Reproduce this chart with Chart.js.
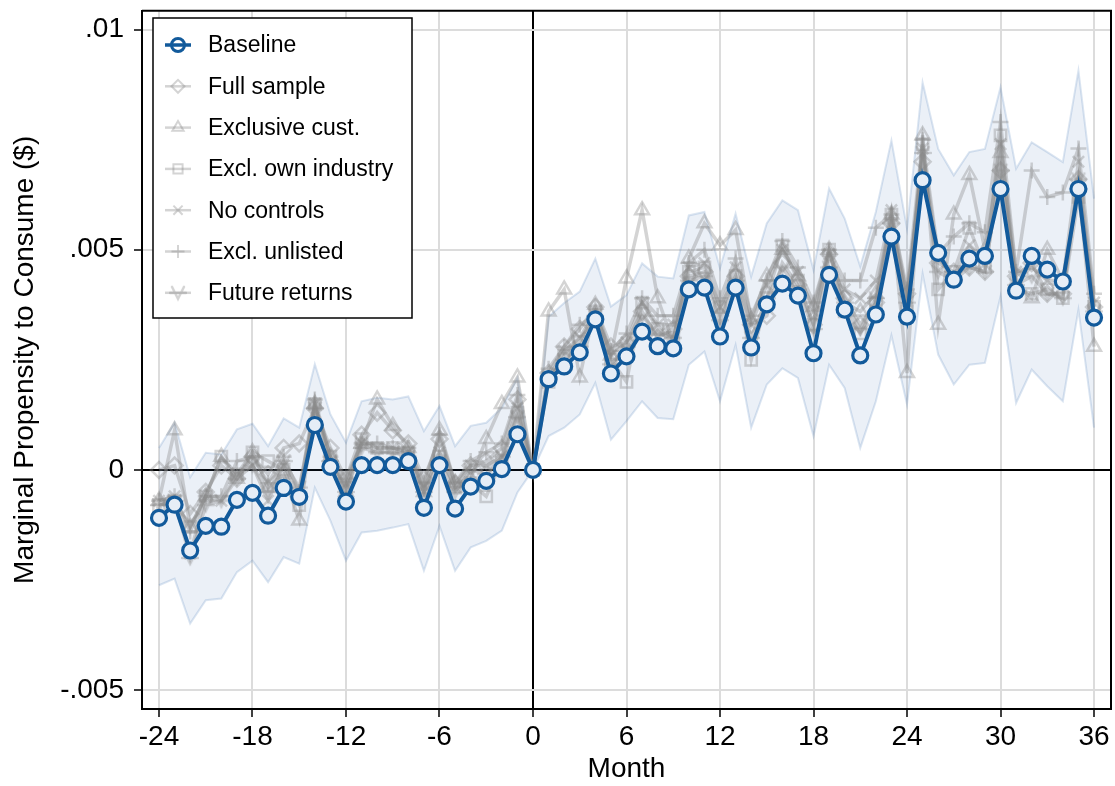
<!DOCTYPE html>
<html>
<head>
<meta charset="utf-8">
<script src="https://cdn.jsdelivr.net/npm/chart.js@4.4.0/dist/chart.umd.min.js"></script>
<style>
  html, body { margin: 0; padding: 0; background: #fff; }
  #wrap { width: 1115px; height: 786px; }
</style>
</head>
<body>
<div id="wrap"><canvas id="mpcChart" width="1115" height="786"></canvas></div>
<script>
// values are in thousandths of a dollar (axis labels show .005 etc.)
const months = [-24,-23,-22,-21,-20,-19,-18,-17,-16,-15,-14,-13,-12,-11,-10,-9,-8,-7,-6,-5,-4,-3,-2,-1,0,
  1,2,3,4,5,6,7,8,9,10,11,12,13,14,15,16,17,18,19,20,21,22,23,24,25,26,27,28,29,30,31,32,33,34,35,36];

const baseline = [-1.09,-0.79,-1.83,-1.27,-1.29,-0.68,-0.52,-1.04,-0.41,-0.61,1.02,0.07,-0.72,0.11,0.11,0.11,0.20,-0.86,0.11,-0.88,-0.38,-0.25,0.02,0.81,0,
  2.06,2.35,2.67,3.42,2.19,2.58,3.14,2.81,2.76,4.10,4.14,3.03,4.14,2.78,3.76,4.23,3.96,2.65,4.43,3.64,2.60,3.53,5.30,3.48,6.58,4.93,4.32,4.80,4.86,6.38,4.07,4.86,4.55,4.28,6.38,3.46];
const ciUpper = [0.50,1.07,-0.17,0.39,0.35,0.92,1.05,0.54,1.17,0.96,2.40,1.26,0.62,1.56,1.64,1.60,1.67,0.88,1.45,0.54,1.00,1.07,1.41,2.10,0,
  3.48,3.79,4.05,4.80,3.71,3.97,4.69,4.39,4.35,5.78,5.86,4.58,5.82,4.39,5.60,6.12,5.90,4.54,6.39,5.71,4.62,5.86,7.48,5.48,8.80,7.29,6.69,7.22,7.29,8.69,6.84,7.44,7.22,6.99,9.07,6.16];
const ciLower = [-2.62,-2.47,-3.49,-2.96,-2.92,-2.32,-2.06,-2.55,-1.98,-2.13,-0.40,-1.15,-2.06,-1.42,-1.38,-1.31,-1.23,-2.29,-1.27,-2.29,-1.76,-1.61,-1.38,-0.51,0,
  0.77,0.96,1.26,1.98,0.69,1.11,1.56,1.18,1.15,2.39,2.69,1.56,2.84,0.96,1.94,2.31,2.09,0.77,2.39,1.86,0.50,1.56,3.06,1.49,4.46,2.62,1.94,2.39,2.43,3.94,1.52,2.28,1.90,1.56,3.64,0.96];

const fullSample = [0,0.10,-1.00,-0.50,0.10,-0.20,0.30,-0.10,0.50,0.60,1.40,0.50,-0.20,0.80,1.30,0.90,0.60,-0.20,0.70,-0.30,0.10,0.20,0.50,1.60,0,
  2.20,2.80,3.20,3.70,2.80,2.90,3.60,3.00,3.20,4.40,4.50,3.50,4.40,3.30,3.50,4.70,4.20,3.30,4.90,3.90,3.30,3.80,5.60,4.00,7.00,4.70,4.50,4.60,4.50,6.80,4.40,4.70,4.00,4.00,6.60,3.70];
const exclusiveCust = [-0.70,0.90,-1.30,-0.60,0.30,-0.20,0.40,-0.40,-0.10,-1.15,1.50,0.30,-0.50,0.60,1.60,1.00,0.50,-0.50,0.90,-0.30,-0.20,0.70,1.50,2.10,0,
  3.60,4.10,2.10,3.75,2.60,4.35,5.90,3.90,2.90,4.80,5.60,5.10,5.45,3.40,4.40,5.00,4.40,3.70,5.00,3.80,3.60,4.00,5.80,2.20,7.60,3.30,5.80,6.70,5.00,7.20,4.20,3.90,5.00,4.30,6.50,2.80];
const exclOwnIndustry = [-0.80,-0.70,-1.30,-0.60,0.30,-0.10,0.40,0.20,0.00,-0.80,1.50,0.30,-0.40,0.70,0.50,0.50,0.40,-0.40,0.30,-0.40,-0.30,-0.60,0.20,1.30,0,
  2.00,2.60,2.90,3.60,2.50,2.00,3.80,3.20,3.00,4.50,4.60,3.70,4.40,2.50,3.90,5.10,4.30,3.30,5.00,3.60,3.10,3.80,5.80,3.60,7.40,4.10,4.50,5.50,4.60,7.60,4.10,4.00,4.10,3.90,6.20,3.70];
const noControls = [-0.70,-0.60,-1.90,-0.60,-0.70,-0.10,0.10,-0.70,0.10,-0.60,1.50,0.10,-0.30,0.60,0.50,0.50,0.40,-0.50,0.40,-0.40,0.10,0.10,0.30,1.40,0,
  2.10,2.70,3.00,3.60,2.60,2.90,3.80,3.30,3.30,4.60,4.70,3.70,4.60,3.30,4.20,5.00,4.50,3.60,4.90,4.10,3.90,4.30,5.90,3.90,7.30,4.80,4.40,5.10,4.80,7.40,4.50,4.60,4.30,4.30,7.00,3.80];
const exclUnlisted = [-0.70,-0.60,-1.40,-0.60,-0.60,0.20,0.30,-0.30,0.30,-0.50,1.60,0.30,-0.20,0.60,0.60,0.50,0.50,-0.30,0.80,-0.30,0.20,0.40,0.60,1.70,0,
  2.30,2.80,3.30,3.50,2.70,3.10,3.90,3.50,3.50,4.70,5.00,3.90,4.80,3.50,4.30,5.20,4.60,3.80,5.00,4.30,4.30,5.50,5.80,4.10,7.50,4.90,5.30,5.60,5.40,7.90,4.50,6.80,6.20,6.30,7.30,4.00];
const futureReturns = [-0.80,-0.70,-2.00,-0.80,-0.70,-0.20,0.10,-0.50,0.20,-0.40,1.40,0.20,-0.50,0.50,0.40,0.40,0.30,-0.50,0.20,-0.50,0.00,-0.10,0.30,1.20,0,
  2.10,2.50,2.80,3.50,2.40,2.80,3.50,3.10,3.00,4.30,4.40,3.40,4.30,3.00,3.90,4.60,4.10,3.20,4.60,3.80,3.20,3.90,5.60,3.80,7.20,4.50,4.30,4.60,4.50,6.80,4.20,4.40,4.00,3.90,6.60,3.60];

const xTicks = [-24,-18,-12,-6,0,6,12,18,24,30,36];
const yTicks = [-5,0,5,10];
const yTickLabels = ['-.005','0','.005','.01'];

const FONT = 'Liberation Sans, Arial, sans-serif';
const BLUE = '#125a9b';
const GRAY = 'rgba(135,135,135,0.36)';
const PLOT_RIGHT = 1111;

// hollow "V" marker for future returns (no built-in shape)
function makeVee(size, color) {
  const c = document.createElement('canvas');
  c.width = size; c.height = size;
  const g = c.getContext('2d');
  g.strokeStyle = color; g.lineWidth = 2.5; g.lineCap = 'round';
  g.beginPath();
  g.moveTo(3, 3); g.lineTo(size / 2, size - 3); g.lineTo(size - 3, 3);
  g.moveTo(1, size / 2); g.lineTo(size - 1, size / 2);
  g.stroke();
  return c;
}
const veeMark = makeVee(18, GRAY);

const pts = arr => months.map((m, i) => ({ x: m, y: arr[i] }));

function grayLine(label, arr, style, order) {
  return {
    label: label, data: pts(arr), order: order,
    borderColor: GRAY, borderWidth: 3.5,
    pointStyle: style, pointRadius: 8, pointBorderWidth: 2.5,
    pointBorderColor: GRAY, pointBackgroundColor: 'rgba(0,0,0,0)',
    tension: 0
  };
}

// stretch the plot to the right edge used by the original figure
const stretchRight = {
  id: 'stretchRight',
  afterLayout(chart) {
    const a = chart.chartArea, x = chart.scales.x;
    a.right = PLOT_RIGHT; a.width = a.right - a.left;
    x.right = PLOT_RIGHT; x.width = x.right - x.left;
    x.configure();
  }
};

// legend drawn inside the plot, top-left, plus the top/right frame
const insideLegend = {
  id: 'insideLegend',
  afterDraw(chart) {
    const ctx = chart.ctx;
    const left = 153, top = 18, w = 259, h = 300;
    ctx.save();
    ctx.fillStyle = '#fff';
    ctx.fillRect(left, top, w, h);
    ctx.strokeStyle = '#000'; ctx.lineWidth = 1.5;
    ctx.strokeRect(left, top, w, h);
    const items = chart.data.datasets.filter(d => !d.hideInLegend);
    items.forEach((d, i) => {
      const y = 45 + i * 41.3;
      ctx.strokeStyle = d.borderColor; ctx.lineWidth = d.label === 'Baseline' ? 3.5 : 2.5;
      ctx.beginPath(); ctx.moveTo(165, y); ctx.lineTo(191, y); ctx.stroke();
      ctx.strokeStyle = d.pointBorderColor; ctx.fillStyle = 'rgba(0,0,0,0)';
      ctx.lineWidth = d.label === 'Baseline' ? 3 : 2;
      Chart.helpers.drawPoint(ctx, { pointStyle: d.pointStyle, radius: 6.5, rotation: 0, borderWidth: ctx.lineWidth }, 178, y);
      ctx.fillStyle = '#000';
      ctx.font = '23px ' + FONT;
      ctx.textBaseline = 'middle'; ctx.textAlign = 'left';
      ctx.fillText(d.label, 208, y + 1);
    });
    const a = chart.chartArea;
    ctx.strokeStyle = '#000'; ctx.lineWidth = 2;
    ctx.beginPath();
    ctx.moveTo(a.left, a.top); ctx.lineTo(a.right, a.top); ctx.lineTo(a.right, a.bottom);
    ctx.stroke();
    ctx.restore();
  }
};

new Chart(document.getElementById('mpcChart').getContext('2d'), {
  type: 'line',
  data: {
    datasets: [
      { label: 'Baseline', data: pts(baseline), order: 0,
        borderColor: BLUE, borderWidth: 4, pointStyle: 'circle', pointRadius: 7.5,
        pointBorderWidth: 3.2, pointBorderColor: BLUE, pointBackgroundColor: '#e6edf6', tension: 0 },
      grayLine('Full sample', fullSample, 'rectRot', 1),
      grayLine('Exclusive cust.', exclusiveCust, 'triangle', 2),
      grayLine('Excl. own industry', exclOwnIndustry, 'rect', 3),
      grayLine('No controls', noControls, 'crossRot', 4),
      grayLine('Excl. unlisted', exclUnlisted, 'cross', 5),
      grayLine('Future returns', futureReturns, veeMark, 6),
      { label: 'upper', data: pts(ciUpper), order: 10, hideInLegend: true,
        borderColor: 'rgba(40,100,170,0.17)', borderWidth: 2, pointRadius: 0,
        backgroundColor: 'rgba(40,100,170,0.095)', fill: '+1', tension: 0 },
      { label: 'lower', data: pts(ciLower), order: 11, hideInLegend: true,
        borderColor: 'rgba(40,100,170,0.17)', borderWidth: 2, pointRadius: 0, fill: false, tension: 0 }
    ]
  },
  options: {
    responsive: false,
    devicePixelRatio: 1,
    animation: false,
    layout: { padding: { top: 9, right: 4, left: 0, bottom: 0 } },
    plugins: { legend: { display: false }, tooltip: { enabled: false } },
    scales: {
      x: {
        type: 'linear', min: -25.09, max: 37.09,
        afterBuildTicks: s => { s.ticks = xTicks.map(v => ({ value: v })); },
        afterFit: s => { s.height = 77; },
        grid: {
          color: c => c.tick && c.tick.value === 0 ? '#000' : '#dcdcdc',
          lineWidth: 2,
          tickColor: '#000', tickLength: 8, tickWidth: 1.5
        },
        border: { display: true, color: '#000', width: 2 },
        ticks: { color: '#000', font: { family: FONT, size: 28 }, padding: 3, maxRotation: 0 },
        title: { display: true, text: 'Month', color: '#000', font: { family: FONT, size: 28 }, padding: { top: 0, bottom: 0 } }
      },
      y: {
        type: 'linear', min: -5.43, max: 10.43,
        afterBuildTicks: s => { s.ticks = yTicks.map(v => ({ value: v })); },
        afterFit: s => { s.width = 142; s.paddingTop = 0; s.paddingBottom = 0; },
        grid: {
          color: c => c.tick && c.tick.value === 0 ? '#000' : '#dcdcdc',
          lineWidth: 2,
          tickColor: '#000', tickLength: 8, tickWidth: 1.5
        },
        border: { display: true, color: '#000', width: 2 },
        ticks: {
          color: '#000', font: { family: FONT, size: 28 }, padding: 10,
          callback: v => yTickLabels[yTicks.indexOf(v)]
        },
        title: { display: true, text: 'Marginal Propensity to Consume ($)', color: '#000', font: { family: FONT, size: 28 }, padding: { top: 8, bottom: 0 } }
      }
    }
  },
  plugins: [stretchRight, insideLegend]
});
</script>
</body>
</html>
